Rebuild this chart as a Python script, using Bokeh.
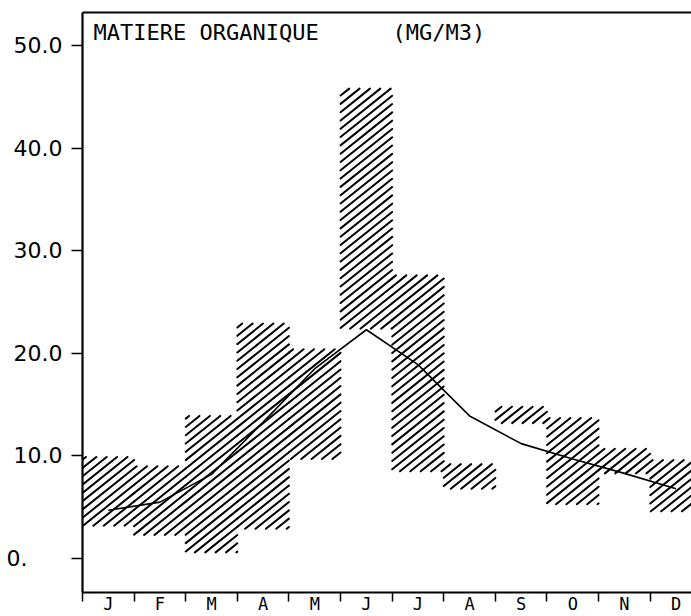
import math
from bokeh.plotting import figure
from bokeh.models import (FixedTicker, LinearAxis, Label, Range1d)
from bokeh.embed import file_html
from bokeh.resources import INLINE

# ---- data ----
months = ["J", "F", "M", "A", "M", "J", "J", "A", "S", "O", "N", "D"]
low = [3.2, 2.3, 0.6, 2.9, 9.7, 22.4, 8.5, 6.8, 13.2, 5.3, 8.3, 4.6]
high = [9.9, 9.0, 13.9, 22.9, 20.4, 45.8, 27.6, 9.2, 14.8, 13.7, 10.7, 9.6]
mean = [4.7, 5.5, 8.2, 13.3, 18.5, 22.3, 18.9, 13.9, 11.2, 9.7, 8.3, 6.8]
y_ticks = [0, 10, 20, 30, 40, 50]
y_tick_labels = ["0.\u2007\u2007\u00a0", "10.0", "20.0", "30.0", "40.0", "50.0"]
title_left = "MATIERE ORGANIQUE"
title_unit = "(MG/M3)"

Y_START, Y_END = -3.31, 53.22
X_START, X_END = 0.0, 11.80

W, H = 691, 616
BORDER_L, BORDER_R, BORDER_T, BORDER_B = 82, 0, 12, 24

lefts = list(range(len(months)))
rights = [i + 1 for i in lefts]
centers = [i + 0.5 for i in lefts]

p = figure(width=W, height=H, output_backend="svg", toolbar_location=None,
           x_range=Range1d(X_START, X_END), y_range=Range1d(Y_START, Y_END),
           x_axis_type=None, y_axis_type=None,
           min_border_left=BORDER_L, min_border_right=BORDER_R,
           min_border_top=BORDER_T, min_border_bottom=BORDER_B)
p.outline_line_color = None
p.grid.visible = False
p.background_fill_color = "white"
p.border_fill_color = "white"

# ---- plotter-style hatching of each min-max box ----
kx = (W - BORDER_L - BORDER_R) / (X_END - X_START)
ky = (H - BORDER_T - BORDER_B) / (Y_END - Y_START)
SLOPE = 0.8      # screen slope of the hatch lines
GAP = 8.3        # vertical spacing between hatch lines, px


def hatch_segments(l, r, b, t):
    """Clip a global family of diagonal lines to one box (data coords in and out)."""
    x0, x1 = (l - X_START) * kx, (r - X_START) * kx
    y0, y1 = (b - Y_START) * ky, (t - Y_START) * ky
    out = []
    j0 = math.floor((y0 - SLOPE * x1) / GAP)
    j1 = math.ceil((y1 - SLOPE * x0) / GAP)
    for j in range(j0, j1 + 1):
        c = j * GAP
        xs = max(x0, (y0 - c) / SLOPE)
        xe = min(x1, (y1 - c) / SLOPE)
        if xe - xs > 0.5:
            out.append((xs / kx + X_START, (c + SLOPE * xs) / ky + Y_START,
                        xe / kx + X_START, (c + SLOPE * xe) / ky + Y_START))
    return out


hx0, hy0, hx1, hy1 = [], [], [], []
for l, r, b, t in zip(lefts, rights, low, high):
    for a, bb, c, d in hatch_segments(l, r, b, t):
        hx0.append(a); hy0.append(bb); hx1.append(c); hy1.append(d)

p.quad(left=lefts, right=rights, bottom=low, top=high,
       fill_color=None, line_color=None)
p.segment(x0=hx0, y0=hy0, x1=hx1, y1=hy1, line_color="black",
          line_width=2.0, line_cap="round")

# mean line
p.line(x=centers, y=mean, line_color="black", line_width=1.6)

# axes
yaxis = LinearAxis(ticker=FixedTicker(ticks=y_ticks, minor_ticks=[]),
                   major_label_overrides={t: s for t, s in zip(y_ticks, y_tick_labels)},
                   major_tick_out=11, major_tick_in=0, minor_tick_out=0,
                   major_tick_line_width=1.5, axis_line_width=2.2,
                   major_label_standoff=9,
                   major_label_text_font="DejaVu Sans",
                   major_label_text_font_size="22px",
                   major_label_text_color="black")
p.add_layout(yaxis, "left")

xaxis = LinearAxis(ticker=FixedTicker(ticks=centers, minor_ticks=list(range(13))),
                   major_label_overrides={c: m for c, m in zip(centers, months)},
                   minor_tick_out=9, minor_tick_in=0, major_tick_out=0, major_tick_in=0,
                   minor_tick_line_width=1.5, axis_line_width=2.2,
                   major_label_standoff=-8,
                   major_label_text_font="DejaVu Sans Mono",
                   major_label_text_font_size="17px",
                   major_label_text_color="black")
p.add_layout(xaxis, "below")

top_axis = LinearAxis(ticker=FixedTicker(ticks=[], minor_ticks=[]),
                      major_tick_out=0, minor_tick_out=0, axis_line_width=2.2,
                      major_label_text_font_size="0px")
p.add_layout(top_axis, "above")

# title
p.add_layout(Label(x=X_START, y=Y_END, text=title_left, x_offset=11, y_offset=-7,
                   text_align="left", text_baseline="top",
                   text_font="DejaVu Sans Mono", text_font_size="22px", text_color="black"))
p.add_layout(Label(x=X_START, y=Y_END, text=title_unit, x_offset=310, y_offset=-7,
                   text_align="left", text_baseline="top",
                   text_font="DejaVu Sans Mono", text_font_size="22px", text_color="black"))

open("out.html", "w").write(file_html(p, INLINE))
